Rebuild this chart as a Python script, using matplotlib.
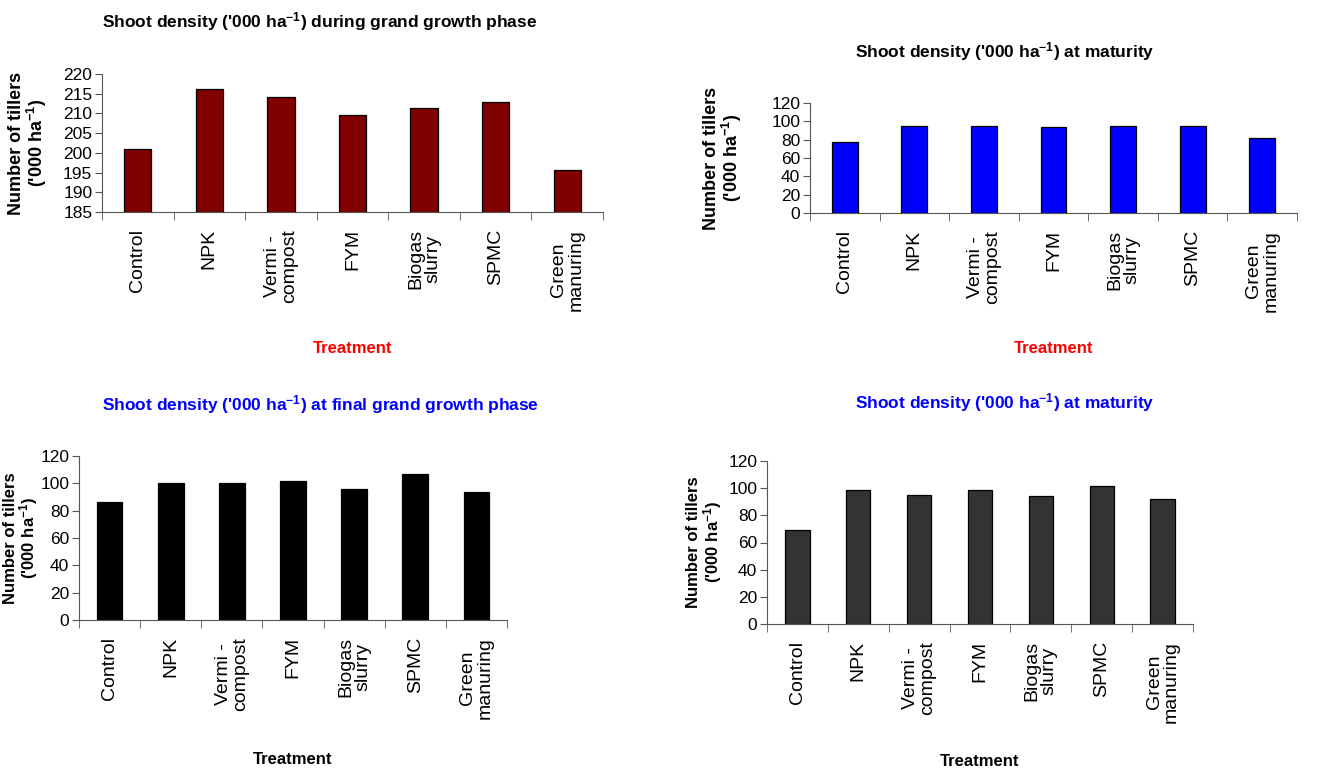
import matplotlib.pyplot as plt

plt.rcParams['font.family'] = ['Liberation Sans', 'DejaVu Sans']
plt.rcParams['mathtext.fontset'] = 'custom'
plt.rcParams['mathtext.rm'] = 'Liberation Sans:bold'
plt.rcParams['mathtext.it'] = 'Liberation Sans:bold'
plt.rcParams['mathtext.bf'] = 'Liberation Sans:bold'

treatments = ['Control', 'NPK', 'Vermi -\ncompost', 'FYM', 'Biogas\nslurry',
              'SPMC', 'Green\nmanuring']

grand_growth = [201.0, 216.3, 214.1, 209.5, 211.3, 212.9, 195.6]
maturity_a = [77, 95, 95, 94, 95, 95, 82]
final_grand_growth = [86, 100.5, 100.5, 102, 95.5, 107, 94]
maturity_b = [69, 99, 95, 99, 94, 101.5, 92]

W, H = 1330, 772


def bar_panel(box, values, colour, ylim, yticks, title, title_colour,
              title_pos, xlabel_colour, xlabel_y, ylabel_x, width, yfont):
    x0, y0, x1, y1 = box
    ax = fig.add_axes([x0 / W, 1 - y1 / H, (x1 - x0) / W, (y1 - y0) / H])
    pos = range(len(values))
    ax.bar(pos, [v - ylim[0] for v in values], bottom=ylim[0], width=width,
           color=colour, edgecolor='black', linewidth=0.9)
    ax.set_xlim(-0.5, len(values) - 0.5)
    ax.set_ylim(*ylim)
    ax.set_yticks(yticks)
    ax.set_yticklabels([str(t) for t in yticks], fontsize=12.5)
    ax.set_xticks(list(pos))
    ax.set_xticklabels(treatments, rotation=90, va='top', ha='center',
                       multialignment='center', fontsize=14,
                       linespacing=1.0)
    ax.set_xticks([p - 0.5 for p in range(len(values) + 1)], minor=True)
    ax.tick_params(axis='x', which='major', length=0, pad=12)
    ax.tick_params(axis='x', which='minor', length=6, direction='out',
                   color='#555555')
    ax.tick_params(axis='y', length=5, color='#555555', pad=2)
    for side in ['top', 'right']:
        ax.spines[side].set_visible(False)
    for side in ['left', 'bottom']:
        ax.spines[side].set_color('#555555')
    ax.set_ylabel("Number of tillers\n('000 ha$^{-1}$)", fontsize=yfont,
                  fontweight='bold', linespacing=1.0)
    ax.yaxis.set_label_coords(ylabel_x, 0.5)
    fig.text(title_pos[0] / W, 1 - title_pos[1] / H, title,
             fontweight='bold', fontsize=12.5, color=title_colour,
             ha='center', va='center')
    fig.text((x0 + x1) / 2 / W, 1 - xlabel_y / H, 'Treatment',
             fontweight='bold', fontsize=12, color=xlabel_colour,
             ha='center', va='center')
    return ax


fig = plt.figure(figsize=(13.3, 7.72), dpi=100)

bar_panel((102, 74, 603, 212), grand_growth, '#800000', (185, 220),
          range(185, 221, 5),
          "Shoot density ('000 ha$^{-1}$) during grand growth phase", 'black',
          (320, 22), 'red', 348, -0.105, 0.38, 13)
bar_panel((810, 103, 1297, 213), maturity_a, '#0000FF', (0, 120),
          range(0, 121, 20),
          "Shoot density ('000 ha$^{-1}$) at maturity", 'black',
          (1005, 52), 'red', 348, -0.135, 0.37, 13)
bar_panel((79, 456, 507, 620), final_grand_growth, '#000000', (0, 120),
          range(0, 121, 20),
          "Shoot density ('000 ha$^{-1}$) at final grand growth phase", '#0000FF',
          (320, 405), 'black', 760, -0.09, 0.42, 12)
bar_panel((767, 461, 1193, 624), maturity_b, '#333333', (0, 120),
          range(0, 121, 20),
          "Shoot density ('000 ha$^{-1}$) at maturity", '#0000FF',
          (1005, 403), 'black', 761, -0.1, 0.4, 12)

fig.savefig('out.png', dpi=100)
